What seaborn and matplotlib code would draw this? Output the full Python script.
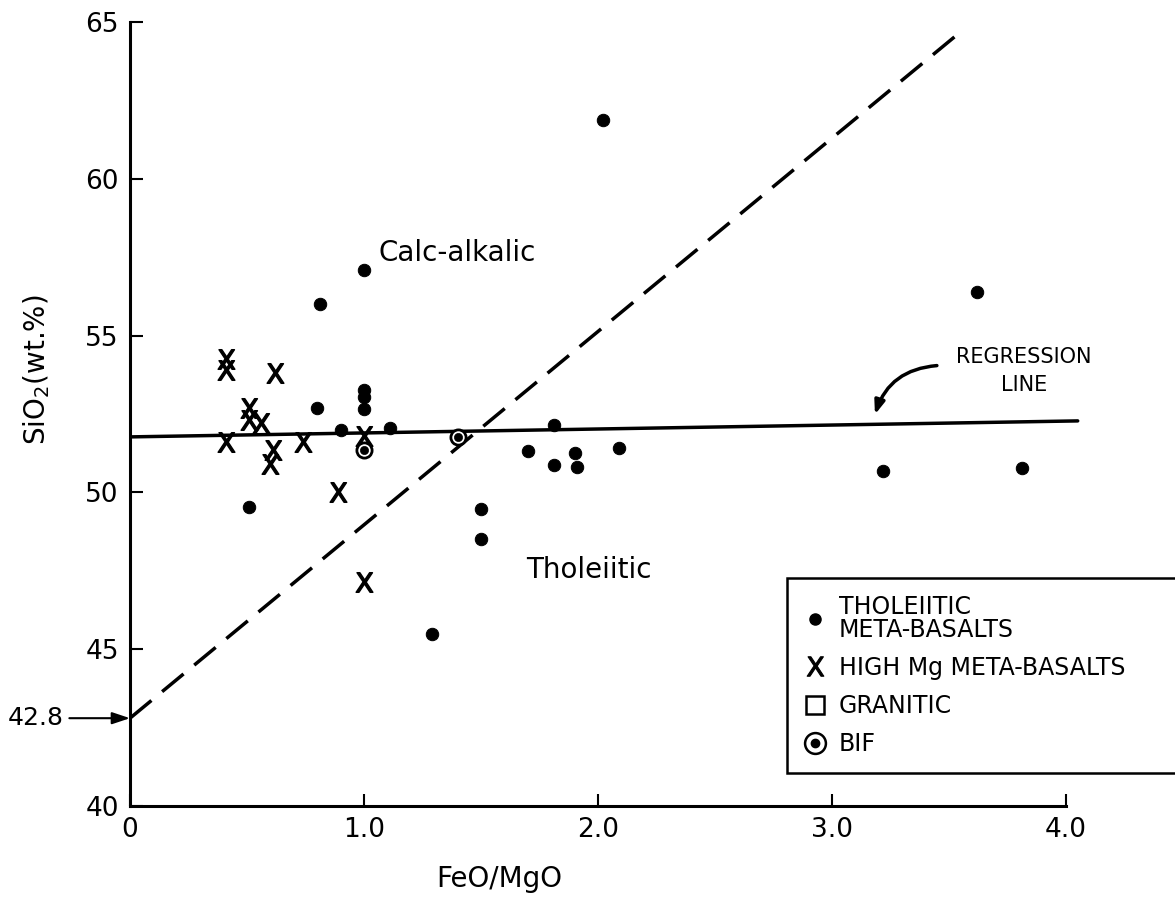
import pandas as pd
import seaborn as sns
import matplotlib.pyplot as plt
from matplotlib.lines import Line2D

# values
thol_x = [0.81, 1.00, 1.00, 1.00, 1.00, 0.80, 0.90, 1.11, 0.51, 2.02, 1.81,
          1.70, 1.81, 1.90, 1.91, 2.09, 1.50, 1.50, 1.29, 3.22, 3.81, 3.62]
thol_y = [56.0, 57.1, 53.27, 53.05, 52.65, 52.7, 52.0, 52.05, 49.55, 61.87, 52.15,
          51.33, 50.87, 51.25, 50.8, 51.4, 49.47, 48.5, 45.5, 50.68, 50.78, 56.39]

highmg_x = [0.41, 0.41, 0.62, 0.51, 0.51, 0.56, 0.41, 0.61, 0.60, 0.74, 0.89, 1.00, 1.00]
highmg_y = [54.25, 53.9, 53.8, 52.7, 52.3, 52.2, 51.6, 51.35, 50.9, 51.6, 50.0, 51.8, 47.15]

bif_x = [1.40, 1.00]
bif_y = [51.77, 51.35]

reg_x = [0.0, 4.05]
reg_y = [51.77, 52.28]

divide_x = [0.0, 3.56]
divide_y = [42.8, 64.75]

x_ticks = [0, 1, 2, 3, 4]
x_labels = ['0', '1.0', '2.0', '3.0', '4.0']
y_ticks = [40, 45, 50, 55, 60, 65]

thol = pd.DataFrame({'feo_mgo': thol_x, 'sio2': thol_y})
highmg = pd.DataFrame({'feo_mgo': highmg_x, 'sio2': highmg_y})
bif = pd.DataFrame({'feo_mgo': bif_x, 'sio2': bif_y})

sns.set_style('white')
plt.rcParams['font.family'] = ['DejaVu Sans']
plt.rcParams['text.color'] = 'black'
plt.rcParams['axes.labelcolor'] = 'black'
plt.rcParams['xtick.color'] = 'black'
plt.rcParams['ytick.color'] = 'black'

fig = plt.figure(figsize=(11.75, 9), dpi=100)
ax = fig.add_axes([130 / 1175, 94 / 900, 4.4 * 234 / 1175, 784 / 900])

# lines
ax.plot(reg_x, reg_y, color='black', lw=2.5)
ax.plot(divide_x, divide_y, color='black', lw=2.5, dashes=(8, 4))

# points
sns.scatterplot(data=thol, x='feo_mgo', y='sio2', color='black', s=80,
                marker='o', edgecolor='black', ax=ax, zorder=3)
sns.scatterplot(data=highmg, x='feo_mgo', y='sio2', color='black', s=200,
                marker=r'$\mathsf{X}$', edgecolor='black', linewidth=1.0, ax=ax, zorder=3)
sns.scatterplot(data=bif, x='feo_mgo', y='sio2', facecolor='white', s=120,
                marker='o', edgecolor='black', linewidth=2, ax=ax, zorder=3)
sns.scatterplot(data=bif, x='feo_mgo', y='sio2', color='black', s=35,
                marker='o', edgecolor='black', ax=ax, zorder=4)

ax.set_xlim(0, 4.4)
ax.set_ylim(40, 65)
ax.set_xticks(x_ticks)
ax.set_xticklabels(x_labels)
ax.set_yticks(y_ticks)
ax.tick_params(bottom=True, left=True, direction='in', length=9, width=1.5,
               labelsize=19, pad=8, colors='black')

for side in ['top', 'right']:
    ax.spines[side].set_visible(False)
for side in ['left', 'bottom']:
    ax.spines[side].set_linewidth(2.2)
    ax.spines[side].set_color('black')
ax.spines['left'].set_bounds(40, 65)
ax.spines['bottom'].set_bounds(0, 4.0)

ax.set_xlabel('FeO/MgO', fontsize=20)
ax.xaxis.set_label_coords(0.359, -0.075)
ax.set_ylabel('SiO$_2$(wt.%)', fontsize=20)
ax.yaxis.set_label_coords(-0.076, 0.556)

# field labels
ax.text(1.40, 57.63, 'Calc-alkalic', fontsize=20, ha='center', va='center')
ax.text(1.96, 47.53, 'Tholeiitic', fontsize=20, ha='center', va='center')

# 42.8 intercept arrow
ax.annotate('42.8', xy=(0, 42.8), xytext=(-0.285, 42.8), fontsize=18,
            ha='right', va='center', annotation_clip=False,
            arrowprops=dict(arrowstyle='-|>,head_length=0.6,head_width=0.2',
                            color='black', lw=1.5, shrinkA=2, shrinkB=0))

# regression line label
ax.text(3.82, 53.87, 'REGRESSION\nLINE', fontsize=15, ha='center', va='center',
        linespacing=1.5)
ax.annotate('', xy=(3.18, 52.4), xytext=(3.46, 54.05),
            arrowprops=dict(arrowstyle='-|>,head_length=0.8,head_width=0.3',
                            color='black', lw=2.5, connectionstyle='arc3,rad=0.35'))

# legend (box runs off the right edge like the scan)
handles = [
    Line2D([], [], ls='none', marker='o', color='black', ms=8),
    Line2D([], [], ls='none', marker=r'$\mathsf{X}$', color='black', ms=14, mew=0.8),
    Line2D([], [], ls='none', marker='s', mfc='none', mec='black', ms=13, mew=1.8),
    (Line2D([], [], ls='none', marker='o', mfc='white', mec='black', ms=15, mew=1.8),
     Line2D([], [], ls='none', marker='o', color='black', ms=6)),
]
labels = ['THOLEIITIC\nMETA-BASALTS', 'HIGH Mg META-BASALTS', 'GRANITIC', 'BIF']
leg = ax.legend(handles, labels, loc='upper left', mode='expand',
                bbox_to_anchor=(787 / 1175, 1 - 773 / 900, 400 / 1175, 195 / 900),
                bbox_transform=fig.transFigure,
                fontsize=17, frameon=True, fancybox=False, edgecolor='black',
                framealpha=1, handlelength=1.0, handletextpad=0.5,
                labelspacing=0.6, borderpad=0.7, borderaxespad=0)
leg.get_frame().set_linewidth(1.8)
for t in leg.get_texts():
    t.set_linespacing(0.95)

fig.savefig('out.png', dpi=100)
